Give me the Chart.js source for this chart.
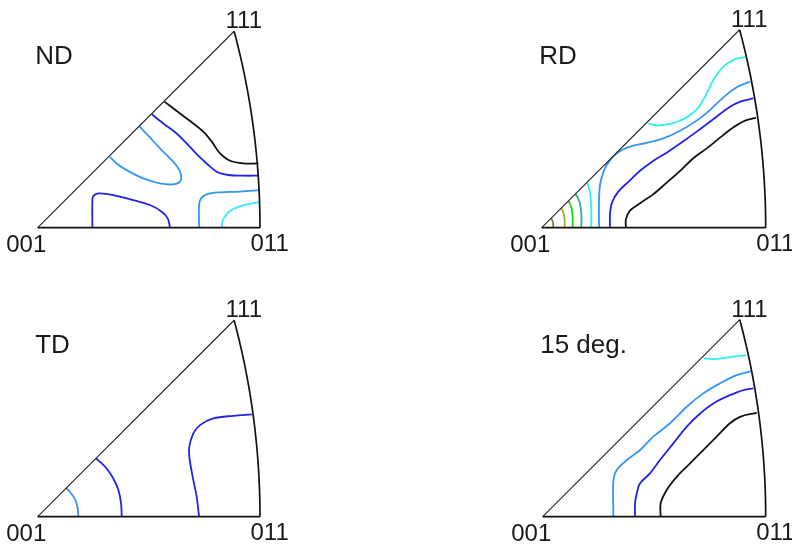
<!DOCTYPE html>
<html>
<head>
<meta charset="utf-8">
<script src="https://cdn.jsdelivr.net/npm/chart.js@4/dist/chart.umd.min.js"></script>
<style>
    body { margin: 0; background: #fff; }
    #wrap { position: relative; width: 792px; height: 546px; overflow: hidden; }
    #wrap canvas { position: absolute; }
</style>
</head>
<body>
<div id="wrap"></div>
<script>
// Inverse pole figures: coordinates are stereographic, scaled so that 011 sits at (1, 0)
const panelTitles = ['ND', 'RD', 'TD', '15 deg.'];
const vertexLabels = ['001', '011', '111'];

// ND contours
const ndBlack = [[0.570,0.567],[0.640,0.514],[0.700,0.469],[0.745,0.432],[0.783,0.387],[0.820,0.334],[0.865,0.301],[0.925,0.289],[0.993,0.289]];
const ndBlueTop = [[0.513,0.510],[0.565,0.469],[0.625,0.424],[0.670,0.379],[0.715,0.331],[0.760,0.289],[0.805,0.252],[0.858,0.237],[0.925,0.234],[0.993,0.234]];
const ndLightLoop = [[0.457,0.457],[0.505,0.406],[0.550,0.357],[0.595,0.312],[0.628,0.274],[0.645,0.237],[0.640,0.207],[0.610,0.195],[0.550,0.199],[0.475,0.222],[0.400,0.259],[0.355,0.289],[0.325,0.319]];
const ndBlueBottom = [[0.246,0],[0.246,0.124],[0.250,0.142],[0.273,0.154],[0.340,0.147],[0.430,0.124],[0.505,0.102],[0.558,0.072],[0.585,0.042],[0.595,0]];
const ndLightCorner = [[0.726,0],[0.726,0.102],[0.735,0.132],[0.760,0.150],[0.820,0.159],[0.910,0.162],[1.000,0.169]];
const ndCyan = [[0.828,0],[0.832,0.031],[0.850,0.061],[0.880,0.084],[0.940,0.105],[1.000,0.115]];

// RD contours
const rdCyanTop = [[0.476,0.466],[0.513,0.457],[0.573,0.463],[0.640,0.488],[0.692,0.528],[0.729,0.585],[0.766,0.659],[0.811,0.719],[0.856,0.749],[0.911,0.763]];
const rdLight = [[0.256,0],[0.256,0.124],[0.263,0.205],[0.290,0.280],[0.335,0.332],[0.394,0.362],[0.469,0.379],[0.543,0.399],[0.618,0.433],[0.692,0.478],[0.751,0.525],[0.811,0.582],[0.871,0.627],[0.930,0.652]];
const rdBlue = [[0.305,0],[0.305,0.064],[0.315,0.116],[0.342,0.161],[0.387,0.205],[0.439,0.254],[0.499,0.299],[0.558,0.335],[0.618,0.376],[0.692,0.429],[0.766,0.484],[0.841,0.540],[0.893,0.565],[0.945,0.577]];
const rdBlack = [[0.376,0],[0.376,0.037],[0.394,0.076],[0.439,0.109],[0.499,0.150],[0.558,0.201],[0.618,0.254],[0.677,0.310],[0.737,0.354],[0.796,0.402],[0.856,0.448],[0.908,0.478],[0.957,0.490]];
const rdCyanLow = [[0.221,0],[0.221,0.080],[0.217,0.150],[0.209,0.185],[0.202,0.202]];
const rdTeal = [[0.177,0],[0.177,0.060],[0.170,0.110],[0.158,0.140],[0.150,0.150]];
const rdGreen = [[0.138,0],[0.138,0.050],[0.133,0.090],[0.124,0.112],[0.118,0.118]];
const rdYellow = [[0.103,0],[0.102,0.040],[0.096,0.070],[0.087,0.087]];
const rdOlive = [[0.052,0],[0.050,0.025],[0.042,0.042]];

// TD contours
const tdLight = [[0.183,0],[0.180,0.037],[0.168,0.078],[0.148,0.108],[0.127,0.130]];
const tdBlueArc = [[0.378,0],[0.375,0.060],[0.363,0.120],[0.340,0.172],[0.310,0.217],[0.280,0.247],[0.262,0.262]];
const tdBlueRight = [[0.726,0],[0.715,0.090],[0.697,0.180],[0.682,0.270],[0.682,0.315],[0.700,0.375],[0.730,0.412],[0.790,0.442],[0.880,0.454],[0.963,0.460]];

// 15 deg. contours
const dgCyan = [[0.720,0.710],[0.765,0.707],[0.825,0.713],[0.912,0.725]];
const dgLight = [[0.317,0],[0.317,0.164],[0.332,0.209],[0.377,0.254],[0.437,0.299],[0.496,0.359],[0.571,0.419],[0.646,0.493],[0.720,0.553],[0.795,0.598],[0.870,0.635],[0.937,0.653]];
const dgBlue = [[0.414,0],[0.414,0.060],[0.422,0.105],[0.436,0.149],[0.481,0.194],[0.526,0.254],[0.586,0.329],[0.646,0.404],[0.706,0.463],[0.765,0.508],[0.840,0.545],[0.900,0.568],[0.945,0.575]];
const dgBlack = [[0.529,0],[0.529,0.060],[0.556,0.120],[0.601,0.179],[0.661,0.239],[0.720,0.299],[0.780,0.359],[0.840,0.419],[0.885,0.448],[0.960,0.466]];

// contour lines per panel and their levels
const panelLines = [
    [ndBlack, ndBlueTop, ndLightLoop, ndBlueBottom, ndLightCorner, ndCyan],
    [rdCyanTop, rdLight, rdBlue, rdBlack, rdCyanLow, rdTeal, rdGreen, rdYellow, rdOlive],
    [tdLight, tdBlueArc, tdBlueRight],
    [dgCyan, dgLight, dgBlue, dgBlack]
];
const panelLevels = [
    ['black', 'blue', 'lightblue', 'blue', 'lightblue', 'cyan'],
    ['cyan', 'lightblue', 'blue', 'black', 'cyan', 'teal', 'green', 'yellow', 'olive'],
    ['lightblue', 'blue', 'blue'],
    ['cyan', 'lightblue', 'blue', 'black']
];

const levelColors = {
    black: '#111111',
    blue: '#2323e6',
    lightblue: '#3596f5',
    cyan: '#2ef0f5',
    teal: '#2fb58a',
    green: '#16d016',
    yellow: '#9db31c',
    olive: '#8a7a2a'
};

// where each panel sits on the page: canvas box, 001 vertex pixel, pixels per unit
const layout = [
    { left: 0,   top: 0,   w: 396, h: 273, x0: 37.7,  y0: 227.7, s: 222.3 },
    { left: 396, top: 0,   w: 396, h: 273, x0: 541.7, y0: 227.7, s: 224 },
    { left: 0,   top: 273, w: 396, h: 273, x0: 37.7,  y0: 516.7, s: 222.3 },
    { left: 396, top: 273, w: 396, h: 273, x0: 542.7, y0: 516.7, s: 223 }
];

// triangle frame: 001 -> 011, great circle 011 -> 111, 111 -> 001
const K = 1 + Math.SQRT2;
function frameArc() {
    const pts = [];
    for (let i = 0; i <= 12; i++) {
        const t = i / 12;
        const d = Math.sqrt(2 + t * t) + 1;
        pts.push({ x: K / d, y: K * t / d });
    }
    return pts;
}
const corner111 = { x: K / (Math.sqrt(3) + 1), y: K / (Math.sqrt(3) + 1) };

const labelPlugin = {
    id: 'labels',
    afterDatasetsDraw(chart, args, opts) {
        const ctx = chart.ctx;
        const xs = chart.scales.x, ys = chart.scales.y;
        const p001 = { x: xs.getPixelForValue(0), y: ys.getPixelForValue(0) };
        const p011 = { x: xs.getPixelForValue(1), y: ys.getPixelForValue(0) };
        const p111 = { x: xs.getPixelForValue(corner111.x), y: ys.getPixelForValue(corner111.y) };
        ctx.save();
        ctx.fillStyle = '#1a1a1a';
        ctx.textAlign = 'left';
        ctx.textBaseline = 'alphabetic';
        ctx.font = '24px "Liberation Sans", Arial, sans-serif';
        ctx.fillText(vertexLabels[0], p001.x - 31.5, p001.y + 24);
        ctx.fillText(vertexLabels[1], p011.x - 9.5, p011.y + 23);
        ctx.fillText(vertexLabels[2], p111.x - 8.6, p111.y - 3);
        ctx.font = '26px "Liberation Sans", Arial, sans-serif';
        ctx.fillText(opts.title, p001.x - 2.5, p001.y - 163.5);
        ctx.restore();
    }
};

const wrap = document.getElementById('wrap');

layout.forEach(function(box, i) {
    const canvas = document.createElement('canvas');
    canvas.width = box.w;
    canvas.height = box.h;
    canvas.style.left = box.left + 'px';
    canvas.style.top = box.top + 'px';
    canvas.style.width = box.w + 'px';
    canvas.style.height = box.h + 'px';
    wrap.appendChild(canvas);

    const datasets = [];
    // frame
    datasets.push({ data: [{ x: 0, y: 0 }, { x: 1, y: 0 }], borderColor: '#111', borderWidth: 1.7 });
    datasets.push({ data: frameArc(), borderColor: '#111', borderWidth: 1.7, tension: 0.4 });
    datasets.push({ data: [{ x: 0, y: 0 }, corner111], borderColor: '#222', borderWidth: 1.1 });

    panelLines[i].forEach(function(line, j) {
        datasets.push({
            data: line.map(function(p) { return { x: p[0], y: p[1] }; }),
            borderColor: levelColors[panelLevels[i][j]],
            borderWidth: 1.8,
            tension: 0.35
        });
    });

    new Chart(canvas, {
        type: 'scatter',
        data: { datasets: datasets },
        options: {
            responsive: false,
            animation: false,
            devicePixelRatio: 1,
            layout: { padding: 0 },
            showLine: true,
            elements: {
                point: { radius: 0, hoverRadius: 0 },
                line: { fill: false, borderJoinStyle: 'round', borderCapStyle: 'butt' }
            },
            scales: {
                x: { type: 'linear', display: false, min: (box.left - box.x0) / box.s, max: (box.left + box.w - box.x0) / box.s },
                y: { type: 'linear', display: false, min: (box.y0 - box.top - box.h) / box.s, max: (box.y0 - box.top) / box.s }
            },
            plugins: {
                legend: { display: false },
                tooltip: { enabled: false },
                labels: { title: panelTitles[i] }
            }
        },
        plugins: [labelPlugin]
    });
});
</script>
</body>
</html>
